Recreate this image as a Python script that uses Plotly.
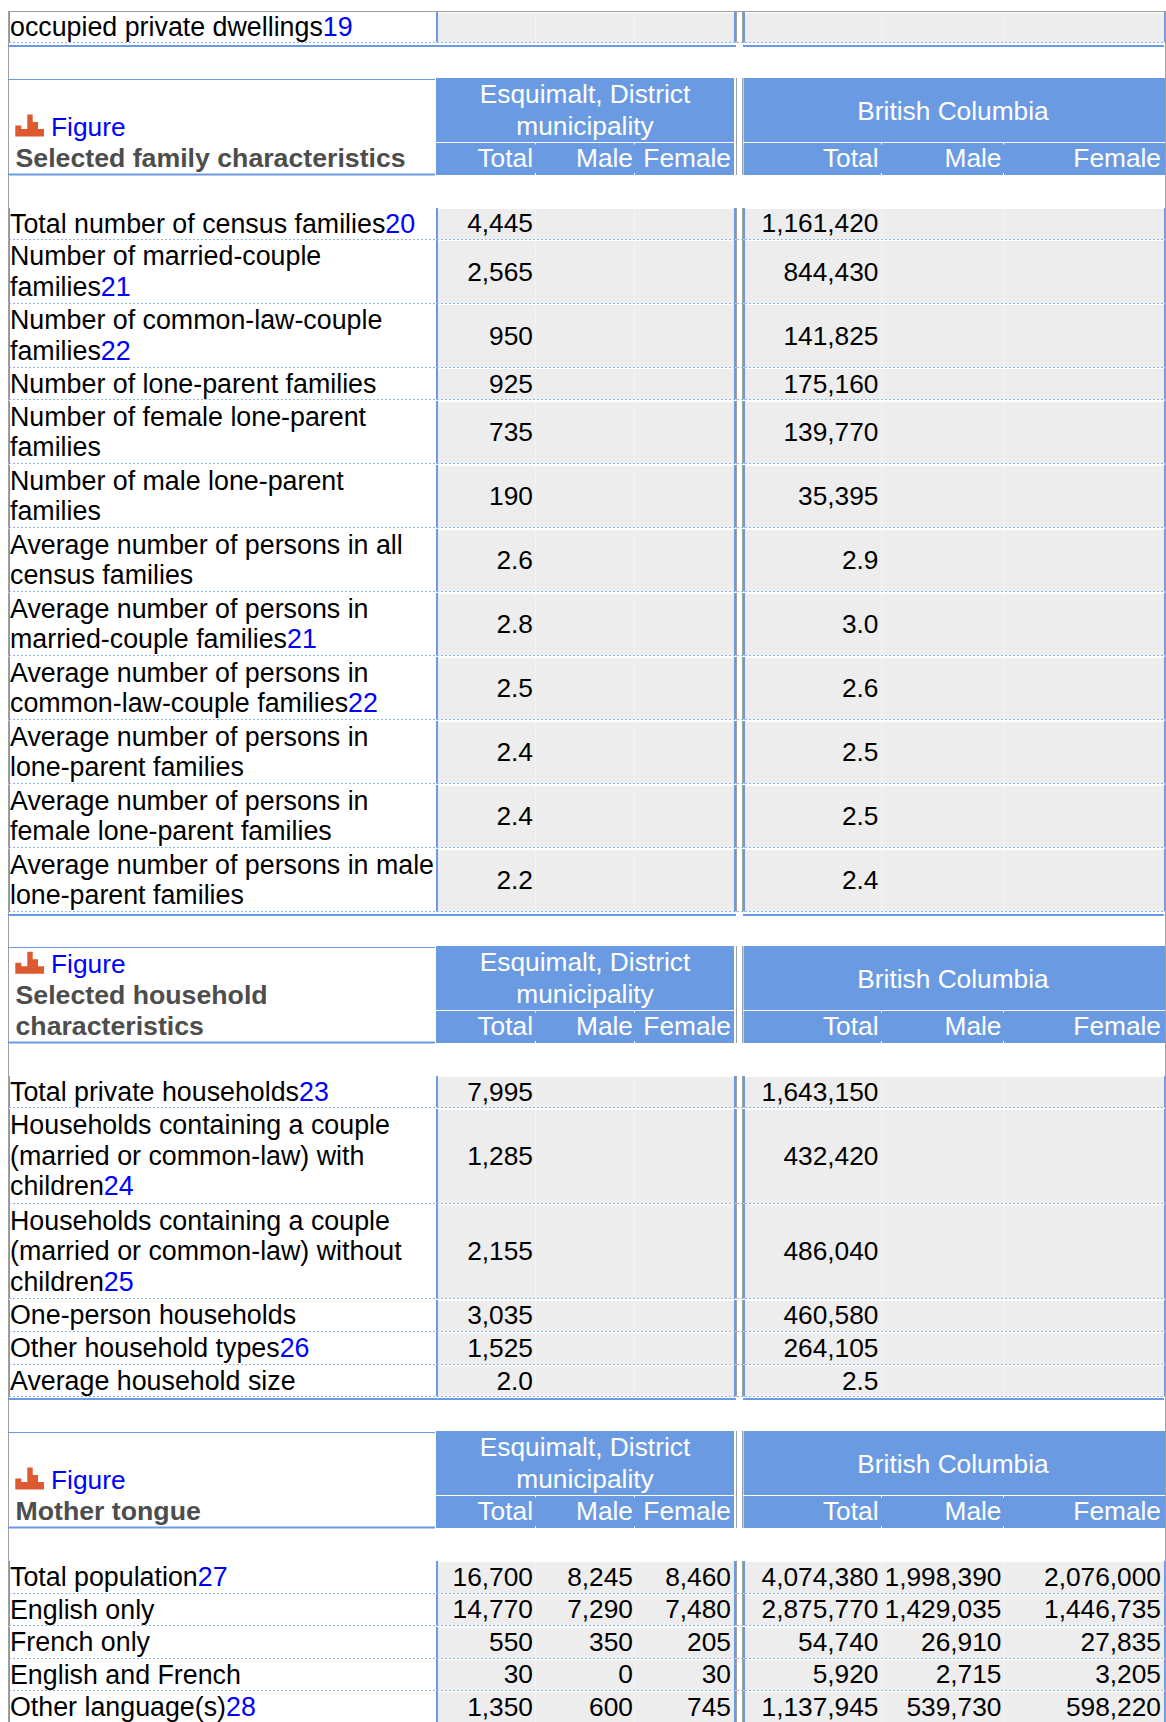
import plotly.graph_objects as go

# ---------- data ----------
top_label = "occupied private dwellings"
top_note = 19

esq_header = ["Esquimalt, District", "municipality"]
bc_header = "British Columbia"
sub_headers = ["Total", "Male", "Female", "Total", "Male", "Female"]

fam_title = ["Selected family characteristics"]
fam_labels = [
    "Total number of census families", "Number of married-couple\nfamilies",
    "Number of common-law-couple\nfamilies", "Number of lone-parent families",
    "Number of female lone-parent\nfamilies", "Number of male lone-parent\nfamilies",
    "Average number of persons in all\ncensus families",
    "Average number of persons in\nmarried-couple families",
    "Average number of persons in\ncommon-law-couple families",
    "Average number of persons in\nlone-parent families",
    "Average number of persons in\nfemale lone-parent families",
    "Average number of persons in male\nlone-parent families",
]
fam_notes = [20, 21, 22, None, None, None, None, 21, 22, None, None, None]
fam_esq_total = ["4,445", "2,565", "950", "925", "735", "190", "2.6", "2.8", "2.5", "2.4", "2.4", "2.2"]
fam_bc_total = ["1,161,420", "844,430", "141,825", "175,160", "139,770", "35,395", "2.9", "3.0", "2.6", "2.5", "2.5", "2.4"]

hh_title = ["Selected household", "characteristics"]
hh_labels = [
    "Total private households",
    "Households containing a couple\n(married or common-law) with\nchildren",
    "Households containing a couple\n(married or common-law) without\nchildren",
    "One-person households", "Other household types", "Average household size",
]
hh_notes = [23, 24, 25, None, 26, None]
hh_esq_total = ["7,995", "1,285", "2,155", "3,035", "1,525", "2.0"]
hh_bc_total = ["1,643,150", "432,420", "486,040", "460,580", "264,105", "2.5"]

mt_title = ["Mother tongue"]
mt_labels = ["Total population", "English only", "French only", "English and French", "Other language(s)"]
mt_notes = [27, None, None, None, 28]
mt_esq_total = ["16,700", "14,770", "550", "30", "1,350"]
mt_esq_male = ["8,245", "7,290", "350", "0", "600"]
mt_esq_female = ["8,460", "7,480", "205", "30", "745"]
mt_bc_total = ["4,074,380", "2,875,770", "54,740", "5,920", "1,137,945"]
mt_bc_male = ["1,998,390", "1,429,035", "26,910", "2,715", "539,730"]
mt_bc_female = ["2,076,000", "1,446,735", "27,835", "3,205", "598,220"]

# ---------- style / layout ----------
W, H = 1166, 1722
BLUE = "#6A9BE2"
GREY = "#EDEDED"
EDGE = "#A0A0A0"
DOT = "#8FB4EA"
LINK = "#0000FF"
TITLE = "#4D4D4D"
ICON = "#DD5A30"
FONT = "Liberation Sans"
FS = 26.3
FS_LABEL = 26.8
FS_TITLE = 26.7
LINE = 30.6
TEXT_DY = 2.6

LEFT, RIGHT = 8.5, 1165.5
CELL_L, DIV_L, DIV_R, CELL_R = 438, 734, 745, 1164
COL_RIGHT = [533, 633, 731, 878.5, 1001.5, 1161]
COL_SEP = [535.5, 634.5, 881.5, 1003.5]
ESQ_C, BC_C = 585, 953

shapes = []


def snap(v):
    return int(v) + 0.5


def rect(x0, y0, x1, y1, color, layer="below"):
    shapes.append(dict(type="rect", xref="x", yref="y", x0=x0, y0=y0, x1=x1, y1=y1,
                       fillcolor=color, line=dict(width=0), layer=layer))


def line(x0, y0, x1, y1, color, width=1, dash="solid"):
    shapes.append(dict(type="line", xref="x", yref="y", x0=x0, y0=y0, x1=x1, y1=y1,
                       line=dict(color=color, width=width, dash=dash), layer="below"))


txt = {"x": [], "y": [], "text": []}
rtxt = {"x": [], "y": [], "text": []}
white_r = {"x": [], "y": [], "text": []}
white_c = {"x": [], "y": [], "text": []}
bold = {"x": [], "y": [], "text": []}
link = {"x": [], "y": [], "text": []}


def put(store, x, y, s):
    store["x"].append(x)
    store["y"].append(y + TEXT_DY)
    store["text"].append(s)


def note_html(n):
    return f'<span style="color:{LINK}">{n}</span>' if n is not None else ""


def data_row(top, bottom, label, note, values):
    b = snap(bottom)
    t = round(top)
    rect(CELL_L, t + 2, DIV_L, b, GREY)
    rect(DIV_R, t + 2, CELL_R, b, GREY)
    for sx in COL_SEP:
        line(sx, t + 2, sx, b, "#F4F4F4")
    line(437, t + 1, 437, b, BLUE, 2)
    line(735, t + 1, 735, b, BLUE, 2)
    line(736.5, t + 1, 736.5, b, EDGE, 1)
    line(742.5, t + 1, 742.5, b, EDGE, 1)
    line(744, t + 1, 744, b, BLUE, 2)
    line(1164.5, t + 1, 1164.5, b, BLUE, 1)
    line(9.5, t + 1, 9.5, b, BLUE, 1)
    line(9, b, 1165, b, DOT, 1, "2px,2px")
    parts = label.split("\n")
    n = len(parts)
    mid = (top + bottom) / 2
    for i, p in enumerate(parts):
        y = mid + (i - (n - 1) / 2) * LINE
        put(txt, 10, y, p + (note_html(note) if i == n - 1 else ""))
    for x, v in zip(COL_RIGHT, values):
        if v:
            put(rtxt, x, mid, v)


def section_end(y):
    line(8, y, 736, y, BLUE, 2)
    line(743, y, 1164, y, BLUE, 2)


def header(top, title):
    bottom = top + 97
    split = top + 64.5
    line(8, top + 1.5, 435, top + 1.5, BLUE, 1)
    line(8, bottom - 0.5, 435, bottom - 0.5, BLUE, 2)
    rect(436, top, 734, bottom, BLUE)
    rect(743.5, top, CELL_R + 1, bottom, BLUE)
    line(436, split, 736, split, "#FFFFFF", 1)
    line(743, split, CELL_R + 1, split, "#FFFFFF", 1)
    line(736.5, top, 736.5, bottom, EDGE, 1)
    line(742.5, top, 742.5, bottom, EDGE, 1)
    for sx in COL_SEP:
        line(sx, bottom - 2, sx, bottom, "#FFFFFF", 1)
        line(sx, split, sx, split + 2, "#FFFFFF", 1)
    put(white_c, ESQ_C, top + 16, esq_header[0])
    put(white_c, ESQ_C, top + 47.5, esq_header[1])
    put(white_c, BC_C, top + 33, bc_header)
    for x, s in zip(COL_RIGHT, sub_headers):
        put(white_r, x, top + 80, s)
    # title lines sit on the cell bottom, the figure link directly above
    n = len(title)
    for i, s in enumerate(title):
        put(bold, 15.5, top + 79.5 - (n - 1 - i) * LINE, s)
    fy = top + 79.5 - n * LINE
    put(link, 51, fy, "Figure")
    base = fy + 9.5
    steps = [(15.3, 21.3, -11), (21.3, 27.3, -7.5), (27.3, 32.7, -22),
             (32.7, 38, -14.5), (38, 44, -7.5)]
    d = f"M {steps[0][0]} {base}"
    for a, b, h in steps:
        d += f" L {a} {base + h} L {b} {base + h}"
    d += f" L {steps[-1][1]} {base} Z"
    shapes.append(dict(type="path", xref="x", yref="y", path=d, fillcolor=ICON,
                       line=dict(width=0), layer="below"))


def section(start, end, labels, notes, cols):
    unit = {1: 32.5, 2: 64.0, 3: 95.0}
    hs = [unit[s.count("\n") + 1] for s in labels]
    k = (end - start) / sum(hs)
    y = start
    for i, (lab, nt, h) in enumerate(zip(labels, notes, hs)):
        vals = [c[i] if c else None for c in cols]
        data_row(y, y + h * k, lab, nt, vals)
        y += h * k


# outer frame
line(LEFT, 11, LEFT, H, EDGE, 1)
line(RIGHT, 11, RIGHT, H, EDGE, 1)
line(LEFT, 11.5, RIGHT, 11.5, EDGE, 1)

# fragment row
data_row(11, 42.5, top_label, top_note, [None] * 6)
section_end(46)

# family
header(78, fam_title)
section(207, 911.5, fam_labels, fam_notes, [fam_esq_total, None, None, fam_bc_total, None, None])
section_end(915)

# household
header(946, hh_title)
section(1075, 1396.7, hh_labels, hh_notes, [hh_esq_total, None, None, hh_bc_total, None, None])
section_end(1399)

# mother tongue
header(1431, mt_title)
section(1560.5, 1723, mt_labels, mt_notes,
        [mt_esq_total, mt_esq_male, mt_esq_female, mt_bc_total, mt_bc_male, mt_bc_female])

fig = go.Figure()


def add(store, pos, color, size=FS, fam=FONT, weight="normal"):
    fig.add_trace(go.Scatter(x=store["x"], y=store["y"], text=store["text"], mode="text",
                             textposition=pos, cliponaxis=False, hoverinfo="skip", showlegend=False,
                             textfont=dict(family=fam, size=size, color=color, weight=weight)))


add(txt, "middle right", "#000000", size=FS_LABEL)
add(rtxt, "middle left", "#000000")
add(white_r, "middle left", "#FFFFFF")
add(white_c, "middle center", "#FFFFFF")
add(bold, "middle right", TITLE, size=FS_TITLE, weight="bold")
add(link, "middle right", LINK)

fig.update_layout(
    width=W, height=H, margin=dict(l=0, r=0, t=0, b=0), paper_bgcolor="#FFFFFF", plot_bgcolor="#FFFFFF",
    xaxis=dict(range=[0, W], visible=False, fixedrange=True),
    yaxis=dict(range=[H, 0], visible=False, fixedrange=True),
    shapes=shapes, showlegend=False,
)
fig.write_html("out.html", config={"displayModeBar": False, "responsive": False},
               post_script="document.body.style.margin='0';document.documentElement.style.overflow='hidden';")
